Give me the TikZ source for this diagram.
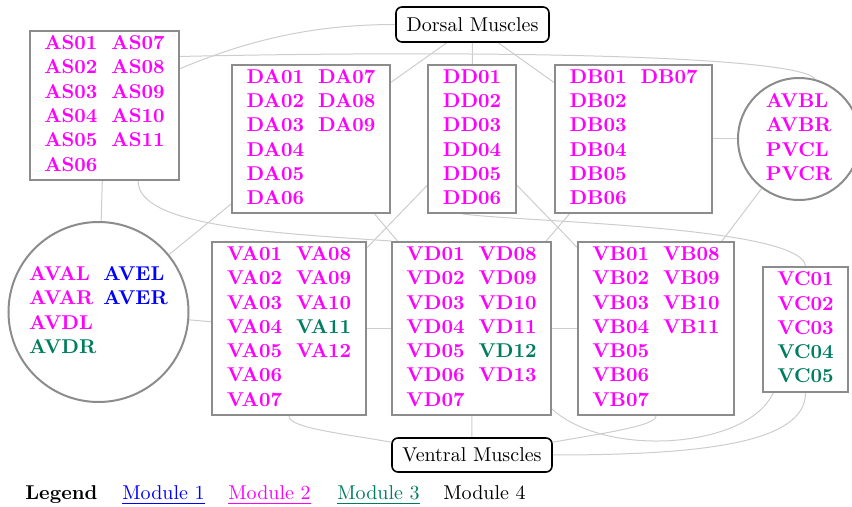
\documentclass[tikz,border=0pt]{standalone}
\usetikzlibrary{backgrounds}

\definecolor{modone}{RGB}{0,0,255}
\definecolor{modtwo}{RGB}{255,0,255}
\definecolor{modthree}{RGB}{0,125,95}
\definecolor{boxgray}{RGB}{140,140,140}
\definecolor{linkgray}{RGB}{205,205,205}

\newcommand{\mone}[1]{\textcolor{modone}{#1}}
\newcommand{\mthree}[1]{\textcolor{modthree}{#1}}
\renewcommand{\arraystretch}{1.0125}

\tikzset{
  group/.style={rectangle, draw=boxgray, line width=1pt, fill=white,
    inner sep=0pt, font=\bfseries, text=modtwo},
  cellset/.style={circle, draw=boxgray, line width=1pt, fill=white,
    inner sep=0pt, font=\bfseries, text=modtwo},
  muscle/.style={rectangle, draw=black, line width=0.8pt, rounded corners=3pt,
    fill=white, inner sep=0pt},
  link/.style={draw=linkgray, line width=0.5pt},
  legendtext/.style={anchor=base west, inner sep=0pt},
}

\begin{document}
\begin{tikzpicture}[x=0.5pt, y=-0.5pt]
\useasboundingbox (0,0) rectangle (852,507);

% muscle groups
\node[muscle, minimum width=76.5pt, minimum height=17.5pt] (dorsal) at (472.5,24.5) {Dorsal Muscles};
\node[muscle, minimum width=80pt, minimum height=17pt] (ventral) at (472,455) {Ventral Muscles};

% dorsal row
\node[group, minimum width=74.5pt, minimum height=74.5pt] (as) at (104.5,105.5) {%
  \begin{tabular}{@{}l@{\hspace{7pt}}l@{}}
  AS01 & AS07\\ AS02 & AS08\\ AS03 & AS09\\ AS04 & AS10\\ AS05 & AS11\\ AS06 &
  \end{tabular}};
\node[group, minimum width=79pt, minimum height=74pt] (da) at (311,139) {%
  \begin{tabular}{@{}l@{\hspace{7pt}}l@{}}
  DA01 & DA07\\ DA02 & DA08\\ DA03 & DA09\\ DA04 & \\ DA05 & \\ DA06 &
  \end{tabular}};
\node[group, minimum width=44pt, minimum height=74pt] (dd) at (472,139) {%
  \begin{tabular}{@{}l@{}}
  DD01\\ DD02\\ DD03\\ DD04\\ DD05\\ DD06
  \end{tabular}};
\node[group, minimum width=78.5pt, minimum height=74pt] (db) at (633.5,139) {%
  \begin{tabular}{@{}l@{\hspace{7pt}}l@{}}
  DB01 & DB07\\ DB02 & \\ DB03 & \\ DB04 & \\ DB05 & \\ DB06 &
  \end{tabular}};
\node[cellset, minimum size=61pt] (circR) at (799,139) {%
  \begin{tabular}{@{}l@{}}
  AVBL\\ AVBR\\ PVCL\\ PVCR
  \end{tabular}};

% ventral row
\node[cellset, minimum size=90pt] (circL) at (98.5,312) {%
  \begin{tabular}{@{}l@{\hspace{3.5pt}}l@{}}
  AVAL & \mone{AVEL}\\ AVAR & \mone{AVER}\\ AVDL & \\ \mthree{AVDR} &
  \end{tabular}};
\node[group, minimum width=77pt, minimum height=86.5pt] (va) at (289,328.5) {%
  \begin{tabular}{@{}l@{\hspace{7pt}}l@{}}
  VA01 & VA08\\ VA02 & VA09\\ VA03 & VA10\\ VA04 & \mthree{VA11}\\ VA05 & VA12\\ VA06 & \\ VA07 &
  \end{tabular}};
\node[group, minimum width=79.5pt, minimum height=86.5pt] (vd) at (471.5,328.5) {%
  \begin{tabular}{@{}l@{\hspace{7pt}}l@{}}
  VD01 & VD08\\ VD02 & VD09\\ VD03 & VD10\\ VD04 & VD11\\ VD05 & \mthree{VD12}\\ VD06 & VD13\\ VD07 &
  \end{tabular}};
\node[group, minimum width=78pt, minimum height=86.5pt] (vb) at (656,328.5) {%
  \begin{tabular}{@{}l@{\hspace{7pt}}l@{}}
  VB01 & VB08\\ VB02 & VB09\\ VB03 & VB10\\ VB04 & VB11\\ VB05 & \\ VB06 & \\ VB07 &
  \end{tabular}};
\node[group, minimum width=42.5pt, minimum height=62.5pt] (vc) at (805.5,329.5) {%
  \begin{tabular}{@{}l@{}}
  VC01\\ VC02\\ VC03\\ \mthree{VC04}\\ \mthree{VC05}
  \end{tabular}};

% connections, kept behind the groups
\begin{scope}[on background layer]
  \draw[link] (dorsal.west) .. controls +(-90,0) and +(60,-25) .. (as.26);
  \draw[link] (as.33) .. controls +(321,-7) and +(-15,-23) .. (circR.75);
  \draw[link] (dorsal) -- (da);
  \draw[link] (dorsal) -- (dd);
  \draw[link] (dorsal) -- (db);
  \draw[link] (as) -- (circL);
  \draw[link] (as.-66) .. controls +(0,45) and +(-120,-8) .. (vd.north west);
  \draw[link] (da) -- (circL);
  \draw[link] (da) -- (vd);
  \draw[link] (dd) -- (va);
  \draw[link] (dd) -- (vb);
  \draw[link] (dd.-97) .. controls +(60,8) and +(-5,-40) .. (vc.north);
  \draw[link] (db) -- (vd);
  \draw[link] (db) -- (circR);
  \draw[link] (circR) -- (vb);
  \draw[link] (circL) -- (va);
  \draw[link] (va) -- (vd);
  \draw[link] (vd) -- (vb);
  \draw[link] (va.south) .. controls +(0,12) and +(-50,-9) .. (ventral.171);
  \draw[link] (vd) -- (ventral);
  \draw[link] (vb.south) .. controls +(0,10) and +(50,-9) .. (ventral.9);
  \draw[link] (vc.south) .. controls +(0,50) and +(150,0) .. (ventral.east);
  \draw[link] (vd.-45) .. controls +(55,50) and +(-25,55) .. (vc.-117);
\end{scope}

% legend
\node[legendtext, font=\bfseries] (legend) at (25,500) {Legend};
\node[legendtext, text=modone] (leg1) at (122,500) {\underline{Module 1}};
\node[legendtext, text=modtwo] (leg2) at (228,500) {\underline{Module 2}};
\node[legendtext, text=modthree] (leg3) at (337,500) {\underline{Module 3}};
\node[legendtext] (leg4) at (443,500) {Module 4};
\end{tikzpicture}
\end{document}
